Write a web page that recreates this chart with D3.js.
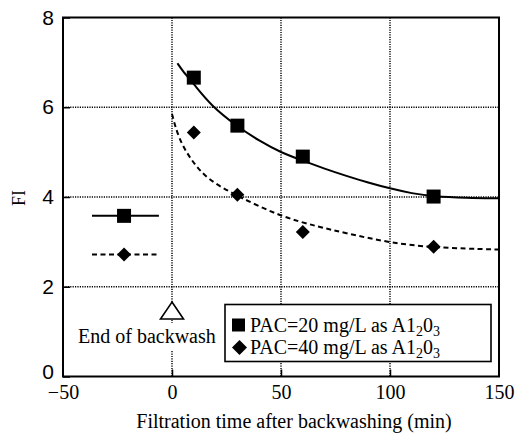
<!DOCTYPE html>
<html lang="en">
<head>
    <meta charset="UTF-8">
    <title>FI after backwash</title>
    <script src="https://d3js.org/d3.v7.min.js"></script>
    <style>
        body { margin: 0; background: white; }
        .serif { font-family: "Liberation Serif", "Times New Roman", serif; }
        .ytick text { font-family: "Liberation Sans", Arial, sans-serif; font-size: 21px; }
        .xtick text { font-family: "Liberation Serif", "Times New Roman", serif; font-size: 20px; }
    </style>
</head>
<body>
<svg id="canvas" width="523" height="433"></svg>
<script>
    // measured points
    const timeX = [10, 30, 60, 120];
    const pac20 = [6.66, 5.59, 4.90, 4.01];
    const pac40 = [5.44, 4.05, 3.22, 2.89];

    // fitted curves
    const fit20X = [2.5, 5, 10, 18, 30, 40, 50, 60, 70, 80, 90, 100, 110, 120, 135, 150];
    const fit20Y = [6.98, 6.8, 6.52, 6.03, 5.57, 5.25, 4.99, 4.81, 4.63, 4.47, 4.32, 4.19, 4.08, 4.01, 3.98, 3.97];
    const fit40X = [0, 3, 9, 16.5, 30, 50, 67, 80, 100, 120, 150];
    const fit40Y = [5.85, 5.3, 4.8, 4.38, 4.02, 3.56, 3.34, 3.19, 2.98, 2.87, 2.83];

    // the little key on the left (x range of line, marker x, y)
    const keyLineX = [-36.7, -6];
    const keyMarkX = -22;
    const keyY = [3.58, 2.72];

    const xTicks = [-50, 0, 50, 100, 150];
    const yTicks = [0, 2, 4, 6, 8];
    const xGrid = [0, 50, 100];
    const yGrid = [2, 4, 6];
    const backwashX = 0, backwashY = 1.28;

    const legendLabels = [["PAC=20 mg/L as A1", "2", "0", "3"], ["PAC=40 mg/L as A1", "2", "0", "3"]];

    const svg = d3.select('#canvas');
    const L = 63, R = 499, T = 17.5, B = 376.5;

    let x = d3.scaleLinear().domain([-50, 150]).range([L, R]);
    let y = d3.scaleLinear().domain([0, 8]).range([B, T]);

    // grid
    let grid = svg.append('g')
        .attr("stroke", "black").attr("stroke-width", 1.4).attr("stroke-dasharray", "1.2,1.2");
    grid.selectAll('.gx').data(xGrid).enter().append('line')
        .attr("x1", d => x(d)).attr("x2", d => x(d)).attr("y1", T).attr("y2", B);
    grid.selectAll('.gy').data(yGrid).enter().append('line')
        .attr("x1", L).attr("x2", R).attr("y1", d => y(d)).attr("y2", d => y(d));

    // axes
    let yAxis = svg.append('g').attr("class", "ytick").attr("transform", `translate(${L},0)`)
        .call(d3.axisLeft(y).tickValues(yTicks).tickSize(-7).tickPadding(9));
    let xAxis = svg.append('g').attr("class", "xtick").attr("transform", `translate(0,${B})`)
        .call(d3.axisBottom(x).tickValues(xTicks).tickSize(-7).tickPadding(8)
            .tickFormat(d => d < 0 ? "\u2212" + Math.abs(d) : d));
    svg.selectAll('.domain').remove();
    svg.selectAll('.tick line').attr("stroke", "black").attr("stroke-width", 1.5);
    svg.selectAll('.tick text').attr("fill", "black");
    xAxis.selectAll('.tick').filter(d => d === -50 || d === 150).select('line').remove();
    yAxis.selectAll('.tick').filter(d => d === 0).select('text').attr("dy", "0.1em");

    // frame
    svg.append('rect').attr("x", L).attr("y", T).attr("width", R - L).attr("height", B - T)
        .attr("fill", "none").attr("stroke", "black").attr("stroke-width", 2);

    // fitted curves
    let lineGen = d3.line().x(d => x(d[0])).y(d => y(d[1])).curve(d3.curveBasis);
    svg.append('path').datum(d3.zip(fit20X, fit20Y)).attr("d", lineGen)
        .attr("fill", "none").attr("stroke", "black").attr("stroke-width", 2);
    svg.append('path').datum(d3.zip(fit40X, fit40Y)).attr("d", lineGen)
        .attr("fill", "none").attr("stroke", "black").attr("stroke-width", 2)
        .attr("stroke-dasharray", "5,3.5");

    // markers
    const sq = 14;
    function drawSquare(g, cx, cy, s) {
        g.append('rect').attr("x", cx - s / 2).attr("y", cy - s / 2)
            .attr("width", s).attr("height", s).attr("fill", "black");
    }
    function drawDiamond(g, cx, cy, r) {
        g.append('path').attr("d", `M${cx},${cy - r}L${cx + r},${cy}L${cx},${cy + r}L${cx - r},${cy}Z`)
            .attr("fill", "black");
    }
    timeX.forEach((t, i) => {
        drawSquare(svg, x(t), y(pac20[i]), sq);
        drawDiamond(svg, x(t), y(pac40[i]), 7);
    });

    // left key
    svg.append('line').attr("x1", x(keyLineX[0])).attr("x2", x(keyLineX[1]))
        .attr("y1", y(keyY[0])).attr("y2", y(keyY[0])).attr("stroke", "black").attr("stroke-width", 2);
    svg.append('line').attr("x1", x(keyLineX[0])).attr("x2", x(keyLineX[1]))
        .attr("y1", y(keyY[1])).attr("y2", y(keyY[1])).attr("stroke", "black").attr("stroke-width", 2)
        .attr("stroke-dasharray", "5,3.5");
    drawSquare(svg, x(keyMarkX), y(keyY[0]), sq);
    drawDiamond(svg, x(keyMarkX), y(keyY[1]), 7);

    // end of backwash marker + label
    let bwText = svg.append('text').attr("class", "serif")
        .attr("x", 78).attr("y", 343).attr("font-size", 20).text("End of backwash");
    let bb = bwText.node().getBBox();
    svg.insert('rect', 'text.serif').attr("x", bb.x - 3).attr("y", bb.y - 2)
        .attr("width", bb.width + 6).attr("height", bb.height + 6).attr("fill", "white");
    let bx = x(backwashX), by = y(backwashY);
    svg.append('path').attr("d", `M${bx},${by - 17}L${bx + 11.5},${by}L${bx - 11.5},${by}Z`)
        .attr("fill", "white").attr("stroke", "black").attr("stroke-width", 1.6);

    // legend box
    let lg = svg.append('g');
    lg.append('rect').attr("x", 225).attr("y", 304.5).attr("width", 266).attr("height", 57)
        .attr("fill", "white").attr("stroke", "black").attr("stroke-width", 1.6);
    drawSquare(lg, 238.5, 325, 13);
    drawDiamond(lg, 239.5, 347.5, 7.5);
    legendLabels.forEach((lab, i) => {
        let t = lg.append('text').attr("class", "serif").attr("font-size", 20)
            .attr("x", 250).attr("y", 332 + i * 21.5);
        t.append('tspan').text(lab[0]);
        t.append('tspan').attr("font-size", 14).attr("dy", 4).text(lab[1]);
        t.append('tspan').attr("dy", -4).text(lab[2]);
        t.append('tspan').attr("font-size", 14).attr("dy", 4).text(lab[3]);
    });

    // axis titles
    svg.append('text').attr("class", "serif").attr("font-size", 20).attr("text-anchor", "middle")
        .attr("x", 294).attr("y", 428).text("Filtration time after backwashing (min)");
    svg.append('text').attr("class", "serif").attr("font-size", 18).attr("text-anchor", "middle")
        .attr("transform", "translate(25,198) rotate(-90)").text("FI");
</script>
</body>
</html>
